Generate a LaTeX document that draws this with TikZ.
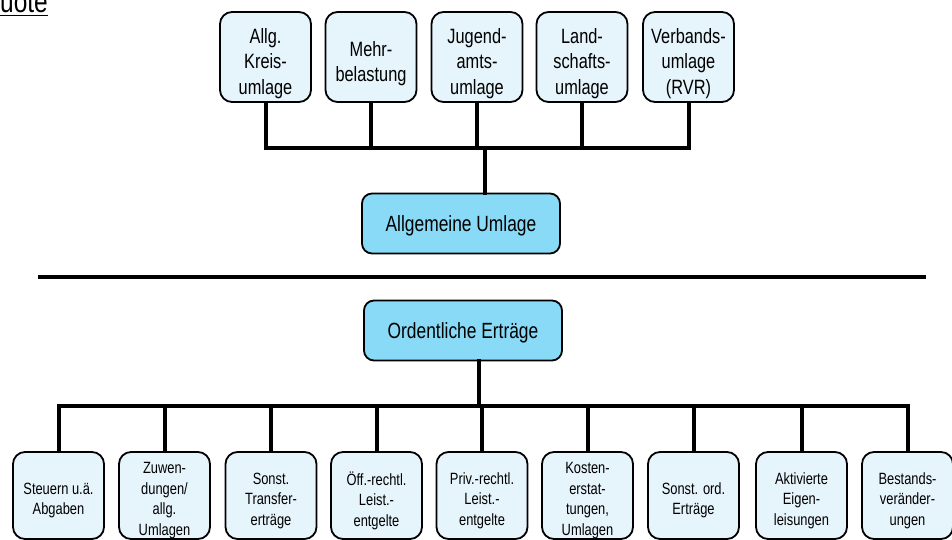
\documentclass[tikz,border=0pt]{standalone}
\usepackage{fontspec}
\setmainfont{Liberation Sans}[FakeStretch=0.79]
\definecolor{lightbox}{HTML}{E6F4FC}
\definecolor{mainbox}{HTML}{88DAF7}
\tikzset{
  boxbase/.style={draw=black, line width=1.8pt, rounded corners=12pt, inner sep=0pt},
  topbox/.style={boxbase, fill=lightbox, minimum width=91pt, minimum height=90pt},
  toptext/.style={inner sep=0pt, align=center, font=\fontsize{20.7}{25.3}\selectfont},
  mainnode/.style={boxbase, fill=mainbox, rounded corners=10pt,
    minimum width=198pt, minimum height=60pt},
  maintext/.style={inner sep=0pt, align=center, font=\fontsize{22}{26}\selectfont},
  botbox/.style={boxbase, fill=lightbox, minimum width=91pt, minimum height=87pt},
  bottext/.style={inner sep=0pt, align=center, font=\fontsize{16.3}{20.5}\selectfont},
  conn/.style={line width=4pt, line cap=rect},
}
\begin{document}
\begin{tikzpicture}[x=1pt,y=-1pt]
\useasboundingbox (0,0) rectangle (952,540);
% title fragment
\node[anchor=base west, inner sep=0pt, font=\fontsize{31}{36}\selectfont] (title) at (0,13) {uote};
\draw[line width=1.6pt] (title.base west) ++(0,2.5) coordinate (ul1) -- (ul1 -| title.east);
% top boxes
\node[topbox] (t1) at (265.5,57) {};
\node[topbox] (t2) at (371,57) {};
\node[topbox] (t3) at (477,57) {};
\node[topbox] (t4) at (582,57) {};
\node[topbox] (t5) at (688.5,57) {};
\node[toptext] (t1t) at ([yshift=-6.5pt]t1.center) {Allg.\\Kreis-\\umlage};
\node[toptext] (t2t) at ([yshift=-6.5pt]t2.center) {Mehr-\\belastung};
\node[toptext] (t3t) at ([yshift=-6.5pt]t3.center) {Jugend-\\amts-\\umlage};
\node[toptext] (t4t) at ([yshift=-6.5pt]t4.center) {Land-\\schafts-\\umlage};
\node[toptext] (t5t) at ([yshift=-6.5pt]t5.center) {Verbands-\\umlage\\(RVR)};
% main nodes
\node[mainnode] (au) at (461,223.5) {};
\node[maintext] (aut) at ([yshift=-2pt]au.center) {Allgemeine Umlage};
\node[mainnode] (oe) at (463,330.5) {};
\node[maintext] (oet) at ([yshift=-2pt]oe.center) {Ordentliche Erträge};
% separator
\coordinate (sepL) at (38,276.5);
\coordinate (sepR) at (926,276.5);
\draw[line width=4pt] (sepL) -- (sepR);
% top bus
\coordinate (tb) at (485,148);
\foreach \n in {t1,t2,t3,t4,t5} \draw[conn] (\n.south) |- (tb);
\draw[conn] (tb) -- (tb |- au.north);
% bottom boxes
\node[botbox] (b1) at (58.5,495.5) {};
\node[botbox] (b2) at (164.5,495.5) {};
\node[botbox] (b3) at (271,495.5) {};
\node[botbox] (b4) at (376.5,495.5) {};
\node[botbox] (b5) at (482,495.5) {};
\node[botbox] (b6) at (587.5,495.5) {};
\node[botbox] (b7) at (693.5,495.5) {};
\node[botbox] (b8) at (801.5,495.5) {};
\node[botbox] (b9) at (907.5,495.5) {};
\node[bottext] (b1t) at ([yshift=-5pt]b1.center) {Steuern u.ä.\\Abgaben};
\node[bottext] (b2t) at ([yshift=-5pt]b2.center) {Zuwen-\\dungen/\\allg.\\Umlagen};
\node[bottext] (b3t) at ([yshift=-5pt]b3.center) {Sonst.\\Transfer-\\erträge};
\node[bottext] (b4t) at ([yshift=-5pt]b4.center) {Öff.-rechtl.\\Leist.-\\entgelte};
\node[bottext] (b5t) at ([yshift=-5pt]b5.center) {Priv.-rechtl.\\Leist.-\\entgelte};
\node[bottext] (b6t) at ([yshift=-5pt]b6.center) {Kosten-\\erstat-\\tungen,\\Umlagen};
\node[bottext] (b7t) at ([yshift=-5pt]b7.center) {Sonst. ord.\\Erträge};
\node[bottext] (b8t) at ([yshift=-5pt]b8.center) {Aktivierte\\Eigen-\\leisungen};
\node[bottext] (b9t) at ([yshift=-5pt]b9.center) {Bestands-\\veränder-\\ungen};
% bottom bus
\coordinate (bb) at (479,406);
\draw[conn] (bb |- oe.south) -- (bb);
\foreach \n in {b1,b2,b3,b4,b5,b6,b7,b8,b9} \draw[conn] (\n.north) |- (bb);
\end{tikzpicture}
\end{document}
